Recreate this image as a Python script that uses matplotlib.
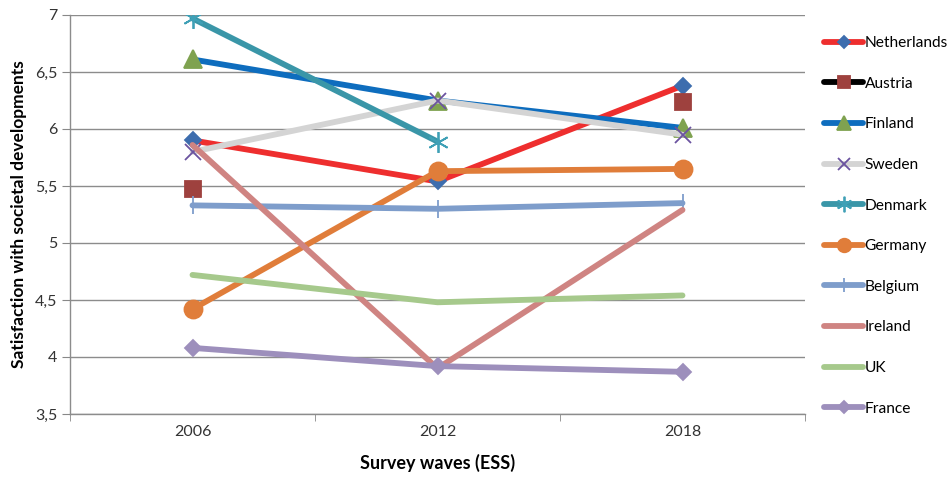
import numpy as np
import matplotlib
matplotlib.use("Agg")
import matplotlib.pyplot as plt

plt.rcParams['font.family'] = ['Lato', 'DejaVu Sans']

waves = ["2006", "2012", "2018"]
netherlands = [5.90, 5.54, 6.38]
austria = [5.47, np.nan, 6.24]
finland = [6.61, 6.25, 6.01]
sweden = [5.80, 6.25, 5.95]
denmark = [6.97, 5.89, np.nan]
germany = [4.42, 5.63, 5.65]
belgium = [5.33, 5.30, 5.35]
ireland = [5.86, 3.90, 5.29]
uk = [4.72, 4.48, 4.54]
france = [4.08, 3.92, 3.87]

series = [
    ("Netherlands", netherlands, "#EE2E2E", "D", "#3D6DAE", 8.5),
    ("Austria", austria, "#000000", "s", "#9E413E", 12),
    ("Finland", finland, "#0E6DBE", "^", "#7FA250", 13),
    ("Sweden", sweden, "#D4D4D4", "x", "#6B53A0", 11),
    ("Denmark", denmark, "#3A96A8", (6, 2, 0), "#3FA0B6", 15),
    ("Germany", germany, "#E07D3A", "o", "#E07D3A", 13),
    ("Belgium", belgium, "#7E9DCB", "|", "#7E9DCB", 13),
    ("Ireland", ireland, "#CF8482", "None", "#CF8482", 0),
    ("UK", uk, "#A6C98C", "None", "#A6C98C", 0),
    ("France", france, "#9D8FBC", "D", "#9D8FBC", 8.5),
]

fig = plt.figure(figsize=(9.51, 4.82), dpi=100)
ax = fig.add_axes([70/951, 1-414/482, (805-70)/951, (414-15)/482])

x = np.arange(len(waves))
handles = []
for i, (name, vals, lc, mk, mc, ms) in enumerate(series):
    h, = ax.plot(x, vals, color=lc, lw=4.2, marker=mk, markersize=ms,
                 markerfacecolor=mc, markeredgecolor=mc, markeredgewidth=1.3,
                 solid_capstyle='round', label=name, zorder=3 + i)
    handles.append(h)

ax.set_xlim(-0.5, 2.5)
ax.set_ylim(3.5, 7)
yt = np.arange(3.5, 7.01, 0.5)
ax.set_yticks(yt)
ax.set_yticklabels([("%g" % v).replace(".", ",") for v in yt])
ax.set_xticks(x)
ax.set_xticklabels(waves)
ax.set_xticks([-0.5, 0.5, 1.5, 2.5], minor=True)
ax.tick_params(axis='x', which='major', length=0, pad=8, labelsize=11.5, colors='#333333')
ax.tick_params(axis='x', which='minor', length=5, color='#888888', direction='out')
ax.tick_params(axis='y', length=6, color='#888888', direction='out', pad=3, labelsize=11.5, labelcolor='#333333')
ax.grid(axis='y', color='#8C8C8C', lw=1.0)
ax.set_axisbelow(True)
for s in ['top', 'right']:
    ax.spines[s].set_visible(False)
for s in ['left', 'bottom']:
    ax.spines[s].set_color('#8C8C8C')
    ax.spines[s].set_linewidth(1.0)

ax.set_ylabel("Satisfaction with societal developments", fontsize=12.5, fontweight='bold', labelpad=6)
ax.set_xlabel("Survey waves (ESS)", fontsize=13, fontweight='bold', labelpad=11)

leg = fig.legend(handles=handles, loc='upper left', bbox_to_anchor=(818/951, 1-30/482),
                 frameon=False, fontsize=11.2, handlelength=2.5, handletextpad=0.1,
                 labelspacing=1.71, markerscale=0.75, borderaxespad=0)

fig.savefig("out.png", dpi=100)
